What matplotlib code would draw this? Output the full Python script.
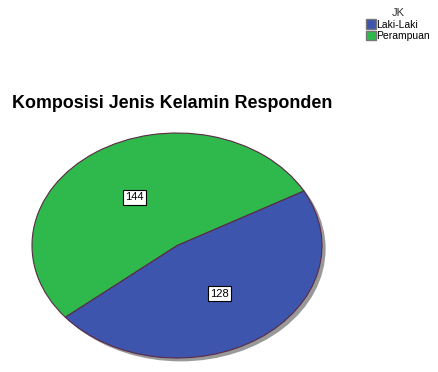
import matplotlib.pyplot as plt
from matplotlib.patches import Ellipse, Patch

plt.rcParams['font.family'] = ['Liberation Sans', 'DejaVu Sans']

# Data
categories = ['Laki-Laki', 'Perampuan']
counts = [128, 144]
colors = ['#3d55ad', '#2fb84b']
title = 'Komposisi Jenis Kelamin Responden'

W, H = 438, 372
fig = plt.figure(figsize=(W / 100, H / 100), dpi=100)

# axes placed so the pie fills the ellipse area (pixel coords)
x0, x1, y0, y1 = 32, 322, 133, 358
ax = fig.add_axes([x0 / W, 1 - y1 / H, (x1 - x0) / W, (y1 - y0) / H])

# shadow
shadow = Ellipse((0.025, -0.03), 2, 2, facecolor='#999999', edgecolor='none', zorder=0)
shadow.set_clip_on(False)
ax.add_patch(shadow)

wedges, texts = ax.pie(counts, colors=colors, startangle=29, counterclock=False,
                       labels=[str(c) for c in counts], labeldistance=0.52,
                       wedgeprops=dict(edgecolor='#5a2a45', linewidth=0.8),
                       textprops=dict(fontsize=8))
for t in texts:
    t.set_ha('center')
    t.set_va('center')
    t.set_bbox(dict(facecolor='white', edgecolor='black', linewidth=0.8, pad=1.8))

ax.set_aspect('auto')
ax.set_xlim(-1.0, 1.0)
ax.set_ylim(-1.0, 1.0)
ax.axis('off')

fig.text(12 / W, 1 - 103 / H, title, fontsize=12.9, fontweight='bold', va='center', ha='left')

handles = [Patch(facecolor=c, edgecolor='#777777') for c in colors]
leg = fig.legend(handles, categories, title='JK', loc='upper right',
                 bbox_to_anchor=(1.0, 1.0), frameon=False, fontsize=7.5,
                 title_fontsize=8, handlelength=0.9, handleheight=1.0,
                 handletextpad=0.05, labelspacing=0.1, borderaxespad=0.4)
leg.get_title().set_color('#333333')

fig.savefig('out.png', dpi=100)
